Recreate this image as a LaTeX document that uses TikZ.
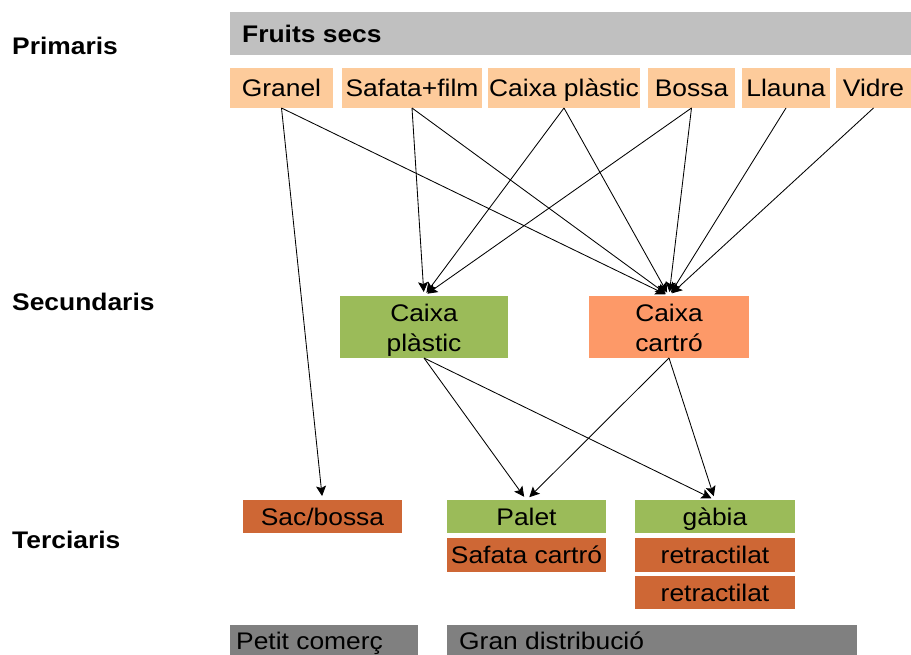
\documentclass[tikz,border=0pt]{standalone}
\usepackage{fontspec}
\setmainfont{Liberation Sans}[FakeStretch=1.1]
\usetikzlibrary{arrows.meta}
\definecolor{barlight}{RGB}{192,192,192}
\definecolor{bardark}{RGB}{128,128,128}
\definecolor{peach}{RGB}{253,203,155}
\definecolor{leaf}{RGB}{155,187,89}
\definecolor{salmon}{RGB}{253,153,104}
\definecolor{rust}{RGB}{206,103,53}
\tikzset{
  box/.style={anchor=north west, inner sep=0pt, outer sep=0pt,
    text height=20pt, text depth=3pt, font=\fontsize{24}{31}\selectfont},
  boxtext/.style={anchor=base, inner sep=0pt, font=\fontsize{24}{31}\selectfont},
  lvl/.style={anchor=west, inner sep=0pt, font=\fontsize{24}{27}\selectfont\bfseries},
  link/.style={line width=0.85pt, -{Stealth[length=10pt,width=10pt,inset=2pt]}, shorten >=4pt},
}
\begin{document}
\begin{tikzpicture}[x=1pt,y=-1pt]
\useasboundingbox (0,0) rectangle (911,655);
\clip (0,0) rectangle (911,655);
\fill[white] (0,0) rectangle (911,655);

% level labels
\node[lvl] (lp) at (12,46) {Primaris};
\node[lvl] (ls) at (12,302) {Secundaris};
\node[lvl] (lt) at (12,540) {Terciaris};

% product header
\node[box, fill=barlight, minimum width=681pt, minimum height=43pt] (fs) at (230,12) {};
\node[anchor=west, inner sep=0pt, font=\fontsize{24}{27}\selectfont\bfseries] (fst) at (242,34) {Fruits secs};

% primary packaging
\node[box, fill=peach, minimum width=103pt, minimum height=40pt] (granel) at (230,68) {Granel};
\node[box, fill=peach, minimum width=140pt, minimum height=40pt] (safata) at (342,68) {Safata+film};
\node[box, fill=peach, minimum width=152pt, minimum height=40pt] (cplp) at (488,68) {Caixa plàstic};
\node[box, fill=peach, minimum width=87pt, minimum height=40pt] (bossa) at (648,68) {Bossa};
\node[box, fill=peach, minimum width=88pt, minimum height=40pt] (llauna) at (742,68) {Llauna};
\node[box, fill=peach, minimum width=75pt, minimum height=40pt] (vidre) at (836,68) {Vidre};

% secondary packaging (two-line labels set line by line)
\node[box, fill=leaf, minimum width=168pt, minimum height=62pt] (cpls) at (340,296) {};
\node[box, fill=salmon, minimum width=160pt, minimum height=62pt] (ccar) at (589,296) {};
\node[boxtext] (cplsa) at (424,321) {Caixa};
\node[boxtext] (cplsb) at (424,352) {plàstic};
\node[boxtext] (ccara) at (669,321) {Caixa};
\node[boxtext] (ccarb) at (669,352) {cartró};

% tertiary packaging
\node[box, fill=rust, minimum width=159pt, minimum height=33pt] (sac) at (243,500) {Sac/bossa};
\node[box, fill=leaf, minimum width=159pt, minimum height=33pt] (palet) at (447,500) {Palet};
\node[box, fill=rust, minimum width=159pt, minimum height=34pt] (sfc) at (447,538) {Safata cartró};
\node[box, fill=leaf, minimum width=160pt, minimum height=33pt] (gabia) at (635,500) {gàbia};
\node[box, fill=rust, minimum width=160pt, minimum height=34pt] (ret1) at (635,538) {retractilat};
\node[box, fill=rust, minimum width=160pt, minimum height=33pt] (ret2) at (635,576) {retractilat};

% distribution channels
\node[box, fill=bardark, minimum width=188pt, minimum height=40pt] (petit) at (230,625) {};
\node[anchor=base west, inner sep=0pt, font=\fontsize{24}{27}\selectfont] (pt) at (236,649) {Petit comerç};
\node[box, fill=bardark, minimum width=410pt, minimum height=40pt] (gran) at (447,625) {};
\node[anchor=base west, inner sep=0pt, font=\fontsize{24}{27}\selectfont] (gt) at (459,649) {Gran distribució};

% primary -> secondary / tertiary
\draw[link] (granel.south) -- (sac.north);
\draw[link] (granel.south) -- (ccar.north);
\draw[link] (safata.south) -- (cpls.north);
\draw[link] (safata.south) -- (ccar.north);
\draw[link] (cplp.south) -- (cpls.north);
\draw[link] (cplp.south) -- (ccar.north);
\draw[link] (bossa.south) -- (cpls.north);
\draw[link] (bossa.south) -- (ccar.north);
\draw[link] (llauna.south) -- (ccar.north);
\draw[link] (vidre.south) -- (ccar.north);

% secondary -> tertiary
\draw[link] (cpls.south) -- (palet.north);
\draw[link] (cpls.south) -- (gabia.north);
\draw[link] (ccar.south) -- (palet.north);
\draw[link] (ccar.south) -- (gabia.north);
\end{tikzpicture}
\end{document}
